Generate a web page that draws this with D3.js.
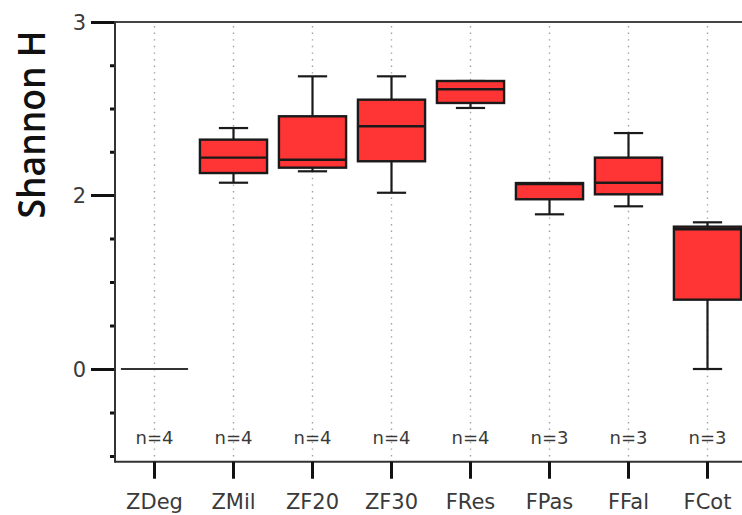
<!DOCTYPE html>
<html>
<head>
<meta charset="utf-8">
<script src="https://cdn.jsdelivr.net/npm/d3@7"></script>
<style>
  html, body { margin: 0; padding: 0; background: #fff; }
  svg { display: block; }
  .tick-label { font-family: "DejaVu Sans", sans-serif; font-weight: 400; fill: #3a3a3a; }
</style>
</head>
<body>
<svg id="chart" width="742" height="515"></svg>
<script>
// Groups and their box-plot statistics (Shannon H)
const groups   = ["ZDeg", "ZMil", "ZF20", "ZF30", "FRes", "FPas", "FFal", "FCot"];
const whiskerLo = [0, 2.071, 2.137, 2.013, 2.503, 1.778, 1.870, 0.000];
const q1        = [0, 2.127, 2.158, 2.195, 2.532, 1.951, 2.004, 0.797];
const medians   = [0, 2.216, 2.204, 2.397, 2.611, 2.064, 2.071, 1.606];
const q3        = [0, 2.320, 2.455, 2.551, 2.659, 2.069, 2.216, 1.636];
const whiskerHi = [0, 2.387, 2.686, 2.686, 2.659, 2.069, 2.358, 1.686];
const counts    = [4, 4, 4, 4, 4, 3, 3, 3];

// Axis ticks
const majorTicks = [0, 2, 3];
const minorTicks = [-1, -0.5, 0.5, 1, 1.5, 2.25, 2.5, 2.75];
const yBottom = -1.066;

const svg = d3.select("#chart");
const plotLeft = 115, plotRight = 747, plotTop = 22;

const x = d3.scaleBand().domain(groups).range([plotLeft, plotRight]).padding(0);
// piecewise-linear value axis
const y = d3.scaleLinear().domain([0, 2, 3]).range([369, 195, 22]);
const plotBottom = y(yBottom);

const rows = groups.map((g, i) => ({
  g, lo: whiskerLo[i], q1: q1[i], med: medians[i], q3: q3[i], hi: whiskerHi[i], n: counts[i]
}));

// vertical dotted guides at each group
svg.append("g").selectAll("line").data(groups).join("line")
  .attr("x1", d => x(d) + x.bandwidth() / 2)
  .attr("x2", d => x(d) + x.bandwidth() / 2)
  .attr("y1", plotTop + 4).attr("y2", plotBottom - 3)
  .attr("stroke", "#a0a0a0").attr("stroke-width", 1.4)
  .attr("stroke-dasharray", "1.4,5.2");

// top frame line
svg.append("line")
  .attr("x1", plotLeft).attr("x2", plotRight).attr("y1", plotTop).attr("y2", plotTop)
  .attr("stroke", "#444").attr("stroke-width", 2);

// y axis: minor ticks
const yMinor = svg.append("g").attr("transform", `translate(${plotLeft},0)`)
  .call(d3.axisLeft(y).tickValues(minorTicks).tickSize(5).tickFormat(""));
yMinor.select(".domain").remove();
yMinor.selectAll(".tick line").attr("stroke", "#111").attr("stroke-width", 3);

// y axis: major ticks with labels
const yMajor = svg.append("g").attr("transform", `translate(${plotLeft},0)`)
  .call(d3.axisLeft(y).tickValues(majorTicks).tickSize(24).tickPadding(5).tickFormat(d3.format("d")));
yMajor.select(".domain").remove();
yMajor.selectAll(".tick line").attr("stroke", "#111").attr("stroke-width", 3);
yMajor.selectAll(".tick text").attr("class", "tick-label").attr("font-size", 21).attr("dy", "0.38em");

// left axis line
svg.append("line")
  .attr("x1", plotLeft).attr("x2", plotLeft).attr("y1", plotTop - 1).attr("y2", plotBottom + 1)
  .attr("stroke", "#333").attr("stroke-width", 2);

// x axis
const xAxis = svg.append("g").attr("transform", `translate(0,${plotBottom})`)
  .call(d3.axisBottom(x).tickSize(17).tickPadding(15));
xAxis.select(".domain").attr("stroke", "#333").attr("stroke-width", 2)
  .attr("d", `M${plotLeft},0H${plotRight}`);
xAxis.selectAll(".tick line").attr("stroke", "#111").attr("stroke-width", 3);
xAxis.selectAll(".tick text").attr("class", "tick-label").attr("font-size", 21);

// y axis title
svg.append("text")
  .attr("transform", `translate(45,${(y(3) + y(2)) / 2 + 16}) rotate(-90)`)
  .attr("text-anchor", "middle")
  .attr("font-family", "'Open Sans', 'Noto Sans', sans-serif")
  .attr("font-weight", 600)
  .attr("font-size", 38).attr("fill", "#111")
  .attr("textLength", 188).attr("lengthAdjust", "spacingAndGlyphs")
  .text("Shannon H");

// box plots
const boxW = x.bandwidth() * 0.85;
const capW = x.bandwidth() * 0.37;
const gBox = svg.append("g").selectAll("g").data(rows).join("g")
  .attr("transform", d => `translate(${x(d.g) + x.bandwidth() / 2},0)`);

gBox.each(function (d) {
  const g = d3.select(this);
  const ink = "#1a1a1a";
  if (d.q3 - d.q1 === 0 && d.hi - d.lo === 0) {
    g.append("line").attr("x1", -boxW / 2).attr("x2", boxW / 2)
      .attr("y1", y(d.med)).attr("y2", y(d.med))
      .attr("stroke", "#333").attr("stroke-width", 2);
    return;
  }
  // whiskers
  g.append("line").attr("x1", 0).attr("x2", 0).attr("y1", y(d.hi)).attr("y2", y(d.lo))
    .attr("stroke", ink).attr("stroke-width", 2.2);
  [d.hi, d.lo].forEach(v => {
    g.append("line").attr("x1", -capW / 2).attr("x2", capW / 2)
      .attr("y1", y(v)).attr("y2", y(v))
      .attr("stroke", ink).attr("stroke-width", 2.2);
  });
  // box
  g.append("rect").attr("x", -boxW / 2).attr("width", boxW)
    .attr("y", y(d.q3)).attr("height", y(d.q1) - y(d.q3))
    .attr("fill", "#ff3434").attr("stroke", ink).attr("stroke-width", 2.4);
  // median
  g.append("line").attr("x1", -boxW / 2).attr("x2", boxW / 2)
    .attr("y1", y(d.med)).attr("y2", y(d.med))
    .attr("stroke", ink).attr("stroke-width", 2.4);
});

// sample-size labels
svg.append("g").selectAll("text").data(rows).join("text")
  .attr("class", "tick-label")
  .attr("x", d => x(d.g) + x.bandwidth() / 2)
  .attr("y", plotBottom - 18)
  .attr("text-anchor", "middle")
  .attr("font-size", 18)
  .text(d => `n=${d.n}`);
</script>
</body>
</html>
